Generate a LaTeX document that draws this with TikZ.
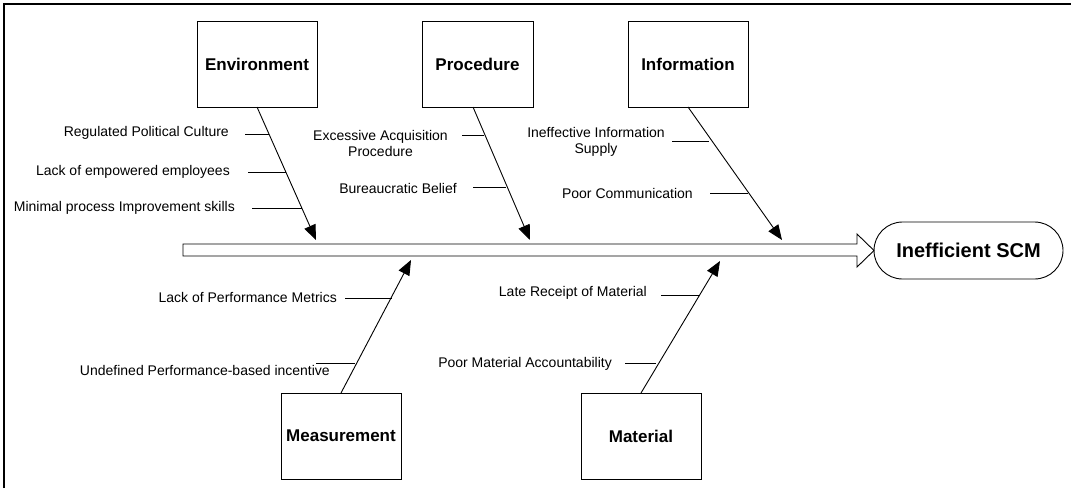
\documentclass[tikz,border=0pt]{standalone}
\usepackage{fontspec}
\setmainfont{Liberation Sans}
\usetikzlibrary{arrows.meta,shapes.misc}
\begin{document}
\begin{tikzpicture}[x=1pt,y=-1pt,
  catbox/.style={draw,line width=0.9pt,minimum width=120pt,minimum height=86pt,inner sep=0pt,font=\fontsize{17}{20}\selectfont\bfseries},
  cause/.style={font=\fontsize{14}{17}\selectfont,inner sep=0pt},
  bone/.style={line width=0.9pt,-{Triangle[length=15pt,width=12pt]}},
  tick/.style={line width=0.9pt}]
\useasboundingbox (0,0) rectangle (1071,488);
% outer frame (cropped at right and bottom)
\draw[line width=1.2pt] (4,488) -- (4,4) -- (1071,4);
% spine
\draw[line width=0.9pt,fill=white] (183,244) -- (857,244) -- (857,234) -- (874,250.5) -- (857,267) -- (857,256) -- (183,256) -- cycle;
\node[draw,line width=0.9pt,rounded rectangle,minimum width=189pt,minimum height=57pt,inner sep=0pt,font=\fontsize{20}{24}\selectfont\bfseries] (scm) at (968.5,250.5) {Inefficient SCM};
% category boxes
\node[catbox] (env) at (257,64) {Environment};
\node[catbox,minimum width=111pt] (proc) at (477.5,64) {Procedure};
\node[catbox] (info) at (688,64) {Information};
\node[catbox] (meas) at (341,436) {Measurement};
\node[catbox] (mat) at (641,436) {Material};
% arrow tips on spine
\coordinate (envT) at (316,240);
\coordinate (procT) at (530,240);
\coordinate (infoT) at (782,240);
\coordinate (measT) at (411,260);
\coordinate (matT) at (720,261);
\coordinate (envS) at (257,107);
\coordinate (procS) at (473,107);
\coordinate (infoS) at (688,107);
\coordinate (measS) at (341,393);
\coordinate (matS) at (641,393);
\draw[bone] (envS) -- (envT);
\draw[bone] (procS) -- (procT);
\draw[bone] (infoS) -- (infoT);
\draw[bone] (measS) -- (measT);
\draw[bone] (matS) -- (matT);
% causes: environment
\node[cause,anchor=east] (e1) at (229,133) {Regulated Political Culture};
\node[cause,anchor=east] (e2) at (230,172) {Lack of empowered employees};
\node[cause,anchor=east] (e3) at (235,208) {Minimal process Improvement skills};
\coordinate (e1a) at (245,134); \coordinate (e1b) at (269,134);
\coordinate (e2a) at (248,172); \coordinate (e2b) at (286,172);
\coordinate (e3a) at (252,208); \coordinate (e3b) at (302,208);
\draw[tick] (e1a) -- (e1b);
\draw[tick] (e2a) -- (e2b);
\draw[tick] (e3a) -- (e3b);
% procedure
\node[cause,align=center] (p1) at (380.5,143.5) {Excessive Acquisition\\[-1pt]Procedure};
\node[cause,anchor=east] (p2) at (457,188) {Bureaucratic Belief};
\coordinate (p1a) at (462,135); \coordinate (p1b) at (484,135);
\coordinate (p2a) at (473,187); \coordinate (p2b) at (506,187);
\draw[tick] (p1a) -- (p1b);
\draw[tick] (p2a) -- (p2b);
% information
\node[cause,align=center] (i1) at (596,141.5) {Ineffective Information\\[-1pt]Supply};
\node[cause,anchor=east] (i2) at (693,193) {Poor Communication};
\coordinate (i1a) at (672,141); \coordinate (i1b) at (709,141);
\coordinate (i2a) at (710,193); \coordinate (i2b) at (748,193);
\draw[tick] (i1a) -- (i1b);
\draw[tick] (i2a) -- (i2b);
% measurement
\node[cause,anchor=east] (m1) at (337,297) {Lack of Performance Metrics};
\node[cause,anchor=east] (m2) at (330,370) {Undefined Performance-based incentive};
\coordinate (m1a) at (345,298); \coordinate (m1b) at (392,298);
\coordinate (m2a) at (316,363); \coordinate (m2b) at (355,363);
\draw[tick] (m1a) -- (m1b);
\draw[tick] (m2a) -- (m2b);
% material
\node[cause,anchor=east] (t1) at (647,293) {Late Receipt of Material};
\node[cause,anchor=east] (t2) at (612,364) {Poor Material Accountability};
\coordinate (t1a) at (661,295); \coordinate (t1b) at (700,295);
\coordinate (t2a) at (625,363); \coordinate (t2b) at (656,363);
\draw[tick] (t1a) -- (t1b);
\draw[tick] (t2a) -- (t2b);
\end{tikzpicture}
\end{document}
